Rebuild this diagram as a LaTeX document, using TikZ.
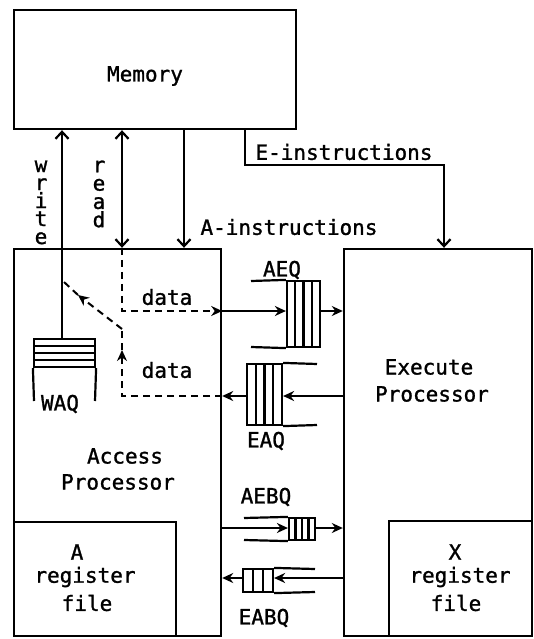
\documentclass[tikz,border=0pt]{standalone}
\usepackage{fontspec}
\newfontfamily\monof[FakeBold=1.2]{DejaVu Sans Mono}
\usetikzlibrary{arrows.meta}
\begin{document}
\begin{tikzpicture}[x=1pt,y=-1pt,
  box/.style={draw, line width=2.4pt, inner sep=0pt},
  ql/.style={line width=2.2pt},
  lbl/.style={font=\monof\fontsize{21}{21}\selectfont, inner sep=0pt},
  vl/.style={lbl, anchor=base, text height=11pt, text depth=0pt},
  ln/.style={line width=2.2pt},
  arr/.style={ln, -{Stealth[length=11pt,width=10pt]}},
  barb/.style={ln, -{Straight Barb[length=7pt,width=13pt]}},
  dbarb/.style={ln, {Straight Barb[length=7pt,width=13pt]}-{Straight Barb[length=7pt,width=13pt]}},
  dsh/.style={line width=2pt, dash pattern=on 7pt off 5pt},
  darr/.style={dsh, -{Stealth[length=11pt,width=10pt]}}]
\useasboundingbox (0,0) rectangle (534,639);
% boxes
\node[box, minimum width=282pt, minimum height=119pt] (mem) at (155,69.5) {};
\node[box, minimum width=207pt, minimum height=387pt] (acc) at (117.5,442.5) {};
\node[box, minimum width=188pt, minimum height=387pt] (exe) at (438,442.5) {};
\node[box, minimum width=162pt, minimum height=114pt] (areg) at (95,579) {};
\node[box, minimum width=143pt, minimum height=115pt] (xreg) at (460.5,578.5) {};
% texts
\node[lbl] (tmem) at (145,76) {Memory};
\node[lbl] (tacc1) at (125,456) {Access};
\node[lbl] (tacc2) at (118,482) {Processor};
\node[lbl] (texe1) at (429,367) {Execute};
\node[lbl] (texe2) at (432,394) {Processor};
\node[lbl] (ta1) at (77,552) {A};
\node[lbl] (ta2) at (85,577) {register};
\node[lbl] (ta3) at (87,603) {file};
\node[lbl] (tx1) at (455,552) {X};
\node[lbl] (tx2) at (460,577) {register};
\node[lbl] (tx3) at (456,603) {file};
\node[lbl] (tei) at (344,152) {E-instructions};
\node[lbl] (tai) at (289,227) {A-instructions};
\node[lbl] (td1) at (167,297) {data};
\node[lbl] (td2) at (167,370) {data};
\node[lbl] (taeq) at (282,270) {AEQ};
\node[lbl] (teaq) at (266,441) {EAQ};
\node[lbl] (taebq) at (266,497) {AEBQ};
\node[lbl] (teabq) at (264,618) {EABQ};
\node[lbl] (twaq) at (60,404) {WAQ};
\foreach \c [count=\i] in {w,r,i,t,e} \node[vl] (w\i) at (41,154+18*\i) {\c};
\foreach \c [count=\i] in {r,e,a,d} \node[vl] (r\i) at (99,154+18.3*\i) {\c};
% queues
\node[box, line width=2.2pt, minimum width=33pt, minimum height=66pt] (aeq) at (303.5,314) {};
\foreach \x in {295.25,303.5,311.75} \draw[ql] (\x,281) -- (\x,347);
\draw[ql] (251,281) -- (aeq.north west);
\draw[ql] (251,347) -- (aeq.south west);
\node[box, line width=2.2pt, minimum width=35pt, minimum height=61pt] (eaq) at (264.5,394.5) {};
\foreach \x in {255.75,264.5,273.25} \draw[ql] (\x,364) -- (\x,425);
\draw[ql] (eaq.north east) -- (317,364);
\draw[ql] (eaq.south east) -- (317,425);
\node[box, line width=2.2pt, minimum width=26pt, minimum height=22pt] (aebq) at (302,529) {};
\foreach \x in {295.5,302,308.5} \draw[ql] (\x,518) -- (\x,540);
\draw[ql] (244,518) -- (aebq.north west);
\draw[ql] (244,540) -- (aebq.south west);
\node[box, line width=2.2pt, minimum width=30pt, minimum height=23pt] (eabq) at (258,580.5) {};
\foreach \x in {253,263} \draw[ql] (\x,569) -- (\x,592);
\draw[ql] (eabq.north east) -- (315,569);
\draw[ql] (eabq.south east) -- (315,592);
\node[box, line width=2.2pt, minimum width=61pt, minimum height=28pt] (waq) at (64.5,353) {};
\foreach \y in {346,353,360} \draw[ql] (34,\y) -- (95,\y);
\draw[ql] (waq.south west) -- (34,401);
\draw[ql] (waq.south east) -- (95,401);
% coordinates
\coordinate (wq) at (62,339);
\coordinate (rd) at (122,0);
\coordinate (ai) at (184,0);
\coordinate (ei) at (245,0);
\coordinate (ec) at (444,165);
\coordinate (d1) at (0,311);
\coordinate (d2) at (0,396);
\coordinate (b1) at (0,528);
\coordinate (b2) at (0,578);
\coordinate (up) at (122,350);
\coordinate (dg1) at (122,329);
\coordinate (dg2) at (78,295);
\coordinate (dg3) at (64,282);
% connectors
\draw[barb] (wq) -- (mem.south -| wq);
\draw[dbarb] (acc.north -| rd) -- (mem.south -| rd);
\draw[barb] (mem.south -| ai) -- (acc.north -| ai);
\draw[barb] (mem.south -| ei) |- (ec) -- (exe.north -| ec);
\draw[arr] (acc.east |- d1) -- (aeq.west |- d1);
\draw[arr] (aeq.east |- d1) -- (exe.west |- d1);
\draw[arr] (exe.west |- d2) -- (eaq.east |- d2);
\draw[arr] (eaq.west |- d2) -- (acc.east |- d2);
\draw[arr] (acc.east |- b1) -- (aebq.west |- b1);
\draw[arr] (aebq.east |- b1) -- (exe.west |- b1);
\draw[arr] (exe.west |- b2) -- (eabq.east |- b2);
\draw[arr] (eabq.west |- b2) -- (acc.east |- b2);
\draw[darr] (acc.north -| rd) |- (acc.east |- d1);
\draw[darr] (acc.east |- d2) -| (up);
\draw[dsh] (up) -- (dg1);
\draw[darr] (dg1) -- (dg2);
\draw[dsh] (dg2) -- (dg3);
\end{tikzpicture}
\end{document}
